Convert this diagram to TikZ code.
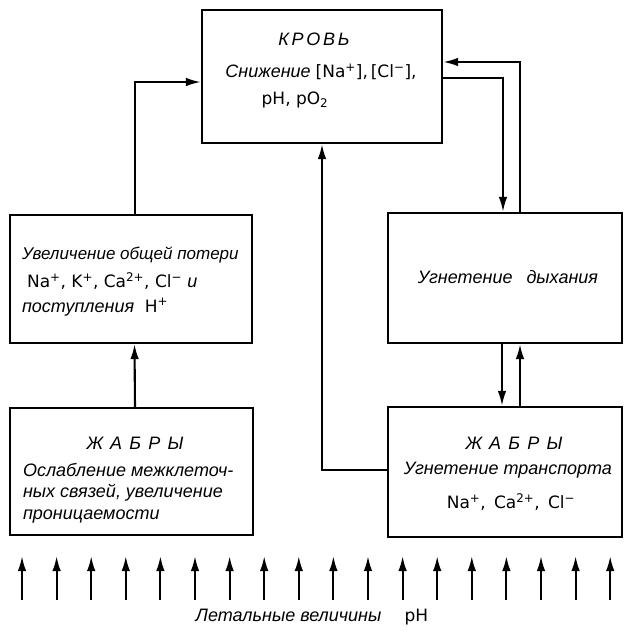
\documentclass[tikz,border=0pt]{standalone}
\usepackage{fontspec}
\setmainfont{Liberation Sans}
\newfontfamily\chem{DejaVu Sans}
\usetikzlibrary{arrows.meta}
\newcommand{\sps}[1]{\textsuperscript{#1}}
\newcommand{\chm}{\chem\upshape\fontsize{17}{20}\selectfont}
\begin{document}
\begin{tikzpicture}[x=1pt,y=-1pt,line width=2.1pt,
  box/.style={draw,rectangle,inner sep=0pt,line width=2.1pt},
  arr/.style={-{Latex[length=15pt,width=8.5pt]}},
  it/.style={font=\fontsize{18}{21}\selectfont\itshape,inner sep=0pt},
  up/.style={font=\chm,inner sep=0pt},
  ttl/.style={font=\fontsize{18}{21}\selectfont\itshape\addfontfeature{LetterSpace=#1},inner sep=0pt}]
\useasboundingbox (0,0) rectangle (625,635);
% boxes
\node[box,minimum width=240pt,minimum height=133pt] (blood) at (322,76.5) {};
\node[box,minimum width=242pt,minimum height=128pt] (loss) at (131,279) {};
\node[box,minimum width=234pt,minimum height=130pt] (resp) at (505,278) {};
\node[box,minimum width=243pt,minimum height=127pt] (gillL) at (131.5,471.5) {};
\node[box,minimum width=234pt,minimum height=130pt] (gillR) at (505,472) {};
% blood text
\node[ttl=15] (bt1) at (314,39) {КРОВЬ};
\node[it] (bt2) at (321,72) {Снижение {\chm[Na\sps{+}],\,[Cl\sps{−}],}};
\node[up] (bt3) at (295,100) {pH, pO\textsubscript{2}};
% loss text
\node[it,font=\fontsize{17}{20}\selectfont\itshape,anchor=west] (lt1) at (21,255) {Увеличение общей потери};
\node[up,anchor=west] (lt2) at (26,281) {Na\sps{+}, K\sps{+}, Ca\sps{2+}, Cl\sps{−} {\fontspec{Liberation Sans}\fontsize{18}{21}\selectfont\itshape и}};
\node[it,anchor=west] (lt3) at (21,307) {поступления\hspace{0.6em}{\chm H\sps{+}}};
% resp text
\node[it] (rt1) at (508,277) {Угнетение\hspace{0.5em} дыхания};
% gill left text
\node[ttl=40] (gl1) at (135,443) {ЖАБРЫ};
\node[it,anchor=west] (gl2) at (22,470) {Ослабление межклеточ-};
\node[it,anchor=west] (gl3) at (22,493) {ных связей, увеличение};
\node[it,anchor=west] (gl4) at (22,517) {проницаемости};
% gill right text
\node[ttl=40] (gr1) at (514,443) {ЖАБРЫ};
\node[it] (gr2) at (508,470) {Угнетение транспорта};
\node[up] (gr3) at (511,502) {Na\sps{+}, \,Ca\sps{2+}, \,Cl\sps{−}};
% connectors
\draw[arr] ([xshift=3.5pt]gillL.north) -- ([xshift=3.5pt]loss.south);
\draw[arr] ([xshift=4pt]loss.north) |- ([yshift=-5.5pt]blood.west);
\draw[arr] ([xshift=15pt]resp.north) |- ([yshift=14.5pt]blood.east);
\draw[arr] ([yshift=-1.5pt]blood.east) -| ([xshift=-2pt]resp.north);
\draw[arr] ([xshift=-3pt]resp.south) -- ([xshift=-3pt]gillR.north);
\draw[arr] ([xshift=15pt]gillR.north) -- ([xshift=15pt]resp.south);
\draw[arr] ([yshift=2pt]gillR.west) -| (blood.south);
% bottom arrows
\foreach \i in {0,...,17}{
  \pgfmathsetmacro\xx{22+\i*34.6}
  \coordinate (b\i) at (\xx,600);
  \coordinate (t\i) at (\xx,556);
  \draw[arr] (b\i) -- (t\i);
}
\node[it] (lethal) at (312,617) {Летальные величины\hspace{1.3em}{\chm pH}};
\end{tikzpicture}
\end{document}
